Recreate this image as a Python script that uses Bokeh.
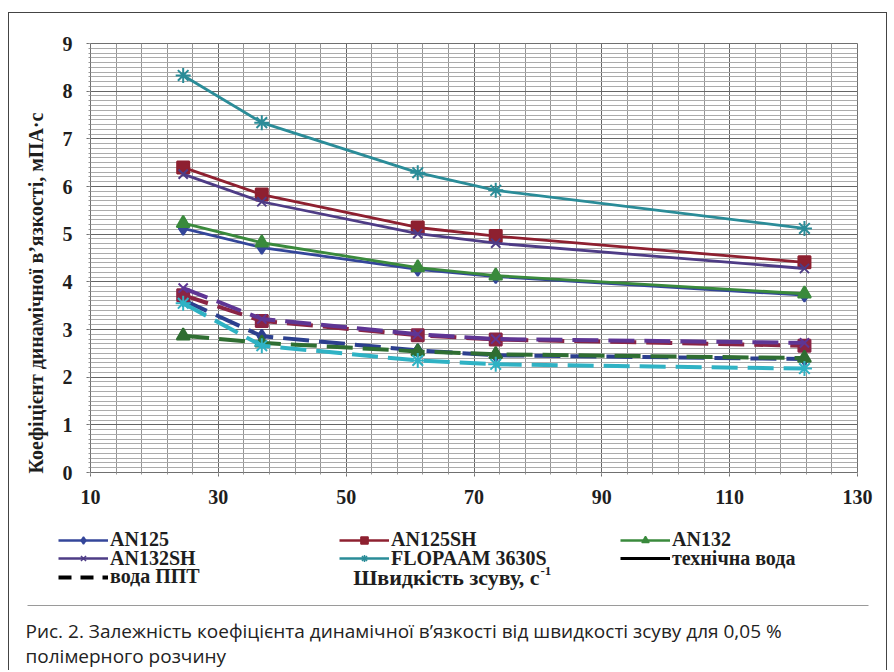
import numpy as np
from bokeh.plotting import figure
from bokeh.layouts import column
from bokeh.models import (FixedTicker, Label, Legend, LegendItem, Arrow, Range1d)
from bokeh.embed import file_html
from bokeh.resources import INLINE

# ---------------- data ----------------
shear_rate = [24.5, 36.8, 61.2, 73.4, 121.7]

# технічна вода (solid lines)
tech_an125 = [5.12, 4.72, 4.26, 4.11, 3.72]
tech_an125sh = [6.40, 5.83, 5.14, 4.96, 4.41]
tech_an132 = [5.23, 4.82, 4.30, 4.13, 3.75]
tech_an132sh = [6.26, 5.68, 5.01, 4.81, 4.28]
tech_flopaam = [8.33, 7.34, 6.29, 5.92, 5.12]

# вода ППТ (dashed lines)
ppt_an125 = [3.62, 2.86, 2.56, 2.46, 2.38]
ppt_an125sh = [3.72, 3.18, 2.88, 2.79, 2.66]
ppt_an132 = [2.87, 2.72, 2.54, 2.48, 2.40]
ppt_an132sh = [3.87, 3.22, 2.90, 2.80, 2.72]
ppt_flopaam = [3.55, 2.66, 2.35, 2.27, 2.18]

names = ["AN125", "AN125SH", "AN132", "AN132SH", "FLOPAAM 3630S"]
water_names = ["технічна вода", "вода ППТ"]
x_ticks = [10, 30, 50, 70, 90, 110, 130]
y_ticks = [0, 1, 2, 3, 4, 5, 6, 7, 8, 9]

x_title = "Швидкість зсуву, с"
x_title_sup = "-1"
y_title = "Коефіцієнт динамічної в’язкості, мПА·с"
caption_1 = "Рис. 2. Залежність коефіцієнта динамічної в’язкості від швидкості зсуву для 0,05 %"
caption_2 = "полімерного розчину"

SERIF = "Liberation Serif"
W = 877

# ---------------- chart figure ----------------
p = figure(width=W, height=499, x_range=Range1d(10, 130), y_range=Range1d(0, 9),
           output_backend="svg", toolbar_location=None,
           min_border_left=81, min_border_right=29, min_border_top=30,
           min_border_bottom=40)
p.background_fill_color = "white"
p.border_fill_color = "white"
p.outline_line_color = "#707070"

xt = FixedTicker(ticks=x_ticks, minor_ticks=list(np.arange(10, 130.5, 4)))
yt = FixedTicker(ticks=y_ticks, minor_ticks=list(np.round(np.arange(0, 9.001, 0.1), 2)))
p.xaxis.ticker = xt
p.yaxis.ticker = yt
p.xgrid.ticker = xt
p.ygrid.ticker = yt

for g in (p.xgrid, p.ygrid):
    g.grid_line_color = "#666666"
    g.grid_line_width = 1
p.xgrid.minor_grid_line_color = "#969696"
p.ygrid.minor_grid_line_color = "#ababab"

for ax in (p.xaxis, p.yaxis):
    ax.axis_line_color = "#707070"
    ax.major_tick_line_color = "#707070"
    ax.minor_tick_line_color = "#999999"
    ax.major_tick_out = 4
    ax.major_tick_in = 0
    ax.minor_tick_out = 2
    ax.minor_tick_in = 0
    ax.major_label_text_font = SERIF
    ax.major_label_text_font_style = "bold"
    ax.major_label_text_font_size = "20px"
    ax.major_label_text_color = "#1e1e1e"
p.xaxis.major_label_standoff = 13
p.yaxis.major_label_standoff = 14

p.yaxis.axis_label = y_title + "\u00a0" * 14
p.yaxis.axis_label_text_font = SERIF
p.yaxis.axis_label_text_font_style = "bold"
p.yaxis.axis_label_text_font_size = "20px"
p.yaxis.axis_label_text_color = "#1e1e1e"
p.yaxis.axis_label_standoff = 13

# ---------------- series ----------------
tech = [tech_an125, tech_an125sh, tech_an132, tech_an132sh, tech_flopaam]
ppt = [ppt_an125, ppt_an125sh, ppt_an132, ppt_an132sh, ppt_flopaam]
solid_colors = ["#34469a", "#8e2030", "#3a8a3c", "#4e3c86", "#2a8c98"]
dash_colors = ["#2c3f8e", "#8a2444", "#2f6e32", "#5e3594", "#2fb2c4"]
markers = ["diamond", "square", "triangle", "x", "asterisk"]
msizes = [13, 12, 13, 13, 15]

for vals, col, mk, ms in zip(tech, solid_colors, markers, msizes):
    p.line(shear_rate, vals, line_color=col, line_width=2.8)
    p.scatter(shear_rate, vals, marker=mk, size=ms, fill_color=col,
              line_color=col, line_width=2)

for vals, col, mk, ms in zip(ppt, dash_colors, markers, msizes):
    p.line(shear_rate, vals, line_color=col, line_width=4, line_dash="26 10")
    p.scatter(shear_rate, vals, marker=mk, size=ms, fill_color=col,
              line_color=col, line_width=2)

# ---------------- bottom figure: legend, x title, caption ----------------
# Its ranges (0..1) keep the proxy series below out of view; they only feed the legend.
q = figure(width=W, height=158, x_range=Range1d(0, 1), y_range=Range1d(0, 1),
           output_backend="svg", toolbar_location=None,
           x_axis_location=None, y_axis_location=None,
           min_border_left=0, min_border_right=0, min_border_top=0,
           min_border_bottom=0)
q.grid.visible = False
q.outline_line_color = None
q.background_fill_color = "white"
q.border_fill_color = "white"
for fig in (p, q):
    if "frame_align" in fig.properties():
        fig.frame_align = False

legend_refs = []
for vals, col, mk in zip(tech, solid_colors, markers):
    lr = q.line(shear_rate, vals, line_color=col, line_width=2.6)
    sr = q.scatter(shear_rate, vals, marker=mk, fill_color=col, line_color=col,
                   line_width=1.5)
    legend_refs.append([lr, sr])
tech_proxy = q.line(shear_rate, tech_an125, line_color="black", line_width=3)
ppt_proxy = q.line(shear_rate, ppt_an125, line_color="black", line_width=4,
                   line_dash="13 9")

col_x = [49, 330, 611]
row_y = [119, 100.5, 82]
entries = [
    (names[0], legend_refs[0], 0, 0),
    (names[1], legend_refs[1], 1, 0),
    (names[2], legend_refs[2], 2, 0),
    (names[3], legend_refs[3], 0, 1),
    (names[4], legend_refs[4], 1, 1),
    (water_names[0], [tech_proxy], 2, 1),
    (water_names[1], [ppt_proxy], 0, 2),
]
for label, rends, c, r in entries:
    leg = Legend(items=[LegendItem(label=label, renderers=rends)],
                 location=(col_x[c], row_y[r]),
                 border_line_color=None, background_fill_alpha=0,
                 padding=0, margin=0, spacing=0,
                 glyph_width=50, glyph_height=18, label_height=18,
                 label_standoff=2, label_text_font=SERIF,
                 label_text_font_style="bold", label_text_font_size="20px",
                 label_text_color="#1e1e1e")
    q.add_layout(leg)

q.add_layout(Label(x=530, y=93, x_units="screen", y_units="screen",
                   text=x_title, text_align="right", text_baseline="middle",
                   text_font=SERIF, text_font_style="bold", text_font_size="22px",
                   text_color="#1e1e1e"))
q.add_layout(Label(x=531, y=100, x_units="screen", y_units="screen",
                   text=x_title_sup, text_align="left", text_baseline="middle",
                   text_font=SERIF, text_font_style="bold", text_font_size="13px",
                   text_color="#1e1e1e"))

q.add_layout(Arrow(end=None, x_start=18, y_start=65, x_end=859, y_end=65,
                   start_units="screen", end_units="screen",
                   line_color="#9a9a9a", line_width=1))
q.add_layout(Label(x=16, y=40, x_units="screen", y_units="screen",
                   text=caption_1, text_align="left", text_baseline="middle",
                   text_font="Open Sans", text_font_size="19px", text_color="#222222"))
q.add_layout(Label(x=16, y=15, x_units="screen", y_units="screen",
                   text=caption_2, text_align="left", text_baseline="middle",
                   text_font="Open Sans", text_font_size="19px", text_color="#222222"))

layout = column(p, q, spacing=0, margin=(12, 0, 0, 8),
                styles={"border-top": "1px solid #444444",
                        "border-left": "1px solid #444444",
                        "border-right": "1px solid #444444"})

open("out.html", "w").write(file_html(layout, INLINE))
